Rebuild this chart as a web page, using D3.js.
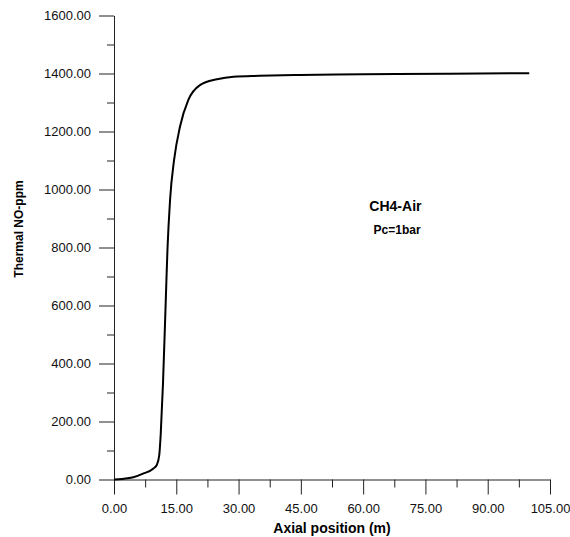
<!DOCTYPE html>
<html>
<head>
<meta charset="utf-8">
<script src="https://cdn.jsdelivr.net/npm/d3@7"></script>
<style>
  html, body { margin: 0; padding: 0; background: #fff; }
  svg { display: block; }
</style>
</head>
<body>
<div id="chart"></div>
<script>
// Axial position (m) vs thermal NO (ppm)
const axialPos = [0, 2, 4.66, 7, 9.5, 10.3, 10.9, 11.26, 11.8, 12.47, 12.87, 13.5, 14.47, 15.9, 17.9, 20.7, 24.8, 28.8, 35, 44.8, 60, 80, 100];
const thermalNO = [0, 2, 7.6, 20, 38, 50, 84, 159, 332, 619, 791, 964, 1102, 1217, 1309, 1360, 1380, 1389, 1392, 1395, 1397, 1399, 1401];

const xMajor = [0, 15, 30, 45, 60, 75, 90, 105];
const yMajor = [0, 200, 400, 600, 800, 1000, 1200, 1400, 1600];

const W = 570, H = 537;
const margin = { top: 15.5, right: 20, bottom: 57.5, left: 114 };
const iW = 550 - margin.left;
const iH = 479.5 - margin.top;

const svg = d3.select("#chart").append("svg")
  .attr("width", W).attr("height", H)
  .style("font-family", "'Liberation Sans', Arial, sans-serif");

const g = svg.append("g").attr("transform", `translate(${margin.left},${margin.top})`);

const x = d3.scaleLinear().domain([0, 105]).range([0, iW]);
const y = d3.scaleLinear().domain([0, 1600]).range([iH, 0]);

// minor ticks first (half steps), then majors with labels
g.append("g")
  .attr("transform", `translate(0,${iH})`)
  .call(d3.axisBottom(x).tickValues(d3.range(7.5, 105, 15)).tickSize(8).tickFormat(""))
  .call(a => a.select(".domain").remove());

g.append("g")
  .call(d3.axisLeft(y).tickValues(d3.range(100, 1600, 200)).tickSize(7).tickFormat(""))
  .call(a => a.select(".domain").remove());

g.append("g")
  .attr("transform", `translate(0,${iH})`)
  .call(d3.axisBottom(x).tickValues(xMajor).tickSize(15).tickSizeOuter(0).tickPadding(9).tickFormat(d3.format(".2f")))
  .call(a => a.selectAll("text").attr("font-size", 13).attr("fill", "#111"));

g.append("g")
  .call(d3.axisLeft(y).tickValues(yMajor).tickSize(15).tickSizeOuter(0).tickPadding(8).tickFormat(d3.format(".2f")))
  .call(a => a.selectAll("text").attr("font-size", 13).attr("fill", "#111"));

g.selectAll(".domain, .tick line").attr("stroke", "#222").attr("stroke-width", 1);

const pts = axialPos.map((v, i) => [v, thermalNO[i]]);
g.append("path")
  .datum(pts)
  .attr("fill", "none")
  .attr("stroke", "#000")
  .attr("stroke-width", 2)
  .attr("d", d3.line().x(d => x(d[0])).y(d => y(d[1])).curve(d3.curveMonotoneX));

// axis titles
svg.append("text")
  .attr("x", margin.left + iW / 2).attr("y", 533)
  .attr("text-anchor", "middle")
  .attr("font-size", 14).attr("font-weight", "bold")
  .text("Axial position (m)");

svg.append("text")
  .attr("transform", `translate(23,229) rotate(-90)`)
  .attr("text-anchor", "middle")
  .attr("font-size", 12).attr("font-weight", "bold")
  .text("Thermal NO-ppm");

// annotation
g.append("text")
  .attr("x", x(61.5)).attr("y", y(925))
  .attr("font-size", 14).attr("font-weight", "bold")
  .text("CH4-Air");
g.append("text")
  .attr("x", x(62.5)).attr("y", y(845))
  .attr("font-size", 12).attr("font-weight", "bold")
  .text("Pc=1bar");
</script>
</body>
</html>
